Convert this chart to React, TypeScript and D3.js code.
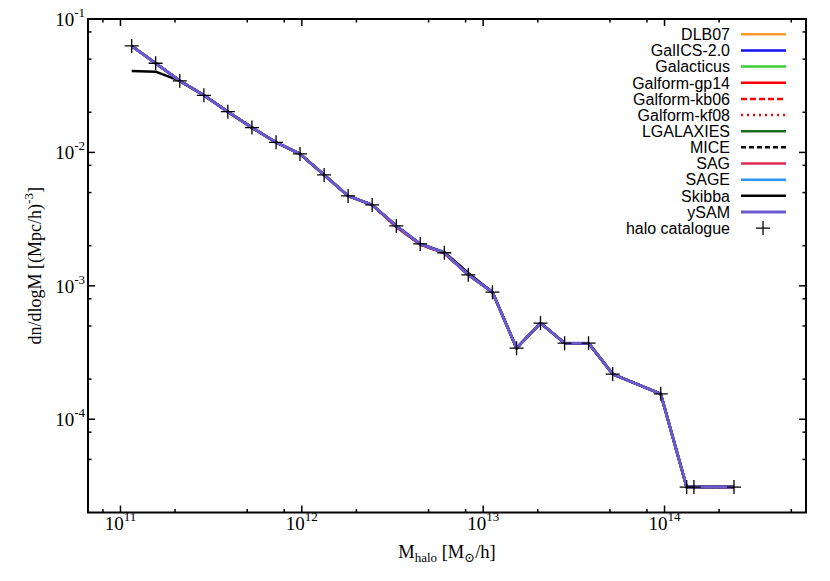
import React from 'react';
import * as d3 from 'd3';

// log10 of halo mass [Msun/h] for each bin
const logMass = [11.062, 11.194, 11.327, 11.46, 11.592, 11.725, 11.858, 11.99, 12.123, 12.255, 12.388, 12.521, 12.653, 12.786, 12.918, 13.051, 13.184, 13.316, 13.449, 13.581, 13.714, 13.979, 14.122, 14.162, 14.383];

// halo catalogue mass function dn/dlogM [(Mpc/h)^-3]
const haloCatalogue = [0.0628, 0.0466, 0.0344, 0.0268, 0.0202, 0.01535, 0.0119, 0.00975, 0.00678, 0.00472, 0.00404, 0.00281, 0.00206, 0.00177, 0.00121, 0.000897, 0.000341, 0.000526, 0.000372, 0.000372, 0.000218, 0.000155, 3.1e-5, 3.1e-5, 3.1e-5];

// models which follow the halo catalogue
const commonModel = [0.0628, 0.0466, 0.0344, 0.0268, 0.0202, 0.01535, 0.0119, 0.00975, 0.00678, 0.00472, 0.00404, 0.00281, 0.00206, 0.00177, 0.00121, 0.000897, 0.000341, 0.000526, 0.000372, 0.000372, 0.000218, 0.000155, 3.1e-5, 3.1e-5, 3.1e-5];
const galformGp14 = [0.0628, 0.0466, 0.0344, 0.0268, 0.0202, 0.01535, 0.0119, 0.00975, 0.00678, 0.00472, 0.00404, 0.00276, 0.00204, 0.00175, 0.00121, 0.000897, 0.000341, 0.000526, 0.000372, 0.000372, 0.000218, 0.000155, 3.1e-5, 3.1e-5, 3.1e-5];
const skibba = [0.0407, 0.0403, 0.0344, 0.0268, 0.0202, 0.01535, 0.0119, 0.00975, 0.00678, 0.00472, 0.00404, 0.00281, 0.00206, 0.00179, 0.00125, 0.000897, 0.000341, 0.000526, 0.000372, 0.000372, 0.000218, 0.000155, 3.1e-5, 3.1e-5, 3.1e-5];

const seriesNames = ['DLB07', 'GalICS-2.0', 'Galacticus', 'Galform-gp14', 'Galform-kb06', 'Galform-kf08', 'LGALAXIES', 'MICE', 'SAG', 'SAGE', 'Skibba', 'ySAM'];
const seriesValues = [commonModel, commonModel, commonModel, galformGp14, galformGp14, galformGp14, commonModel, commonModel, commonModel, commonModel, skibba, commonModel];
const seriesColors = ['#ff9a2e', '#1010f0', '#3ccc3c', '#ff0000', '#ff0000', '#ff0000', '#1b6f1b', '#000000', '#dc2a50', '#2a95ff', '#000000', '#6a5acd'];
const seriesDash = ['', '', '', '', '6,3', '2,4', '', '5,3', '', '', '', ''];

const xTickExps = [11, 12, 13, 14];
const yTickExps = [-1, -2, -3, -4];
const minorMultipliers = [2, 5, 8];

const W = 830, H = 581;
const L = 88, R = 806, T = 19, B = 512.5;

export default function App() {
  const x = d3.scaleLog().domain([10 ** 10.821, 10 ** 14.78]).range([L, R]);
  const y = d3.scaleLog().domain([2e-5, 0.1]).range([B, T]);

  const line = d3.line<[number, number]>().x(d => x(10 ** d[0])).y(d => y(d[1]));

  const xMinor: number[] = [];
  for (let e = 10; e <= 14; e++) for (const m of minorMultipliers) {
    const v = m * 10 ** e;
    if (v > x.domain()[0] && v < x.domain()[1]) xMinor.push(v);
  }
  const yMinor: number[] = [];
  for (let e = -5; e <= -2; e++) for (const m of minorMultipliers) {
    const v = m * 10 ** e;
    if (v > y.domain()[0] && v < y.domain()[1]) yMinor.push(v);
  }

  const serif = '"Liberation Serif", "DejaVu Serif", serif';
  const sans = '"Liberation Sans", Arial, sans-serif';
  const legendX = 730, legendY0 = 34.3, legendDy = 16.15;

  return (
    <svg width={W} height={H} style={{ position: 'absolute', left: 0, top: 0, background: '#fff' }}>
      {/* series */}
      {seriesNames.map((n, i) => (
        <path key={n} d={line(logMass.map((m, k) => [m, seriesValues[i][k]] as [number, number])) || ''}
          fill="none" stroke={seriesColors[i]} strokeWidth={n === 'ySAM' ? 3 : 2.5}
          strokeDasharray={seriesDash[i] || undefined} strokeLinejoin="round" />
      ))}
      {/* halo points */}
      {logMass.map((m, k) => (
        <path key={'p' + k} transform={`translate(${x(10 ** m)},${y(haloCatalogue[k])})`}
          d="M-7,0H7M0,-7V7" stroke="#000" strokeWidth={1.3} />
      ))}
      {/* frame */}
      <rect x={L} y={T} width={R - L} height={B - T} fill="none" stroke="#000" strokeWidth={2} />
      {/* x ticks */}
      {xTickExps.map(e => {
        const px = x(10 ** e);
        return (
          <g key={'xt' + e}>
            <line x1={px} x2={px} y1={B} y2={B - 7} stroke="#000" strokeWidth={1.5} />
            <line x1={px} x2={px} y1={T} y2={T + 7} stroke="#000" strokeWidth={1.5} />
            <text x={px} y={530} textAnchor="middle" fontFamily={serif} fontSize={19}>10<tspan dy={-9} fontSize={13}>{e}</tspan></text>
          </g>
        );
      })}
      {xMinor.map((v, i) => (
        <g key={'xm' + i}>
          <line x1={x(v)} x2={x(v)} y1={B} y2={B - 3.5} stroke="#000" strokeWidth={1.5} />
          <line x1={x(v)} x2={x(v)} y1={T} y2={T + 3.5} stroke="#000" strokeWidth={1.5} />
        </g>
      ))}
      {/* y ticks */}
      {yTickExps.map(e => {
        const py = y(10 ** e);
        return (
          <g key={'yt' + e}>
            <line x1={L} x2={L + 7} y1={py} y2={py} stroke="#000" strokeWidth={1.5} />
            <line x1={R} x2={R - 7} y1={py} y2={py} stroke="#000" strokeWidth={1.5} />
            <text x={85} y={py + 7} textAnchor="end" fontFamily={serif} fontSize={19}>10<tspan dy={-9} fontSize={13}>{e}</tspan></text>
          </g>
        );
      })}
      {yMinor.map((v, i) => (
        <g key={'ym' + i}>
          <line x1={L} x2={L + 3.5} y1={y(v)} y2={y(v)} stroke="#000" strokeWidth={1.5} />
          <line x1={R} x2={R - 3.5} y1={y(v)} y2={y(v)} stroke="#000" strokeWidth={1.5} />
        </g>
      ))}
      {/* axis titles */}
      <text x={(L + R) / 2} y={558} textAnchor="middle" fontFamily={serif} fontSize={18.5}>
        M<tspan dy={4} fontSize={13}>halo</tspan><tspan dy={-4}> [M</tspan><tspan dy={4} fontSize={13}>⊙</tspan><tspan dy={-4}>/h]</tspan>
      </text>
      <text transform={`translate(41,${(T + B) / 2}) rotate(-90)`} textAnchor="middle" fontFamily={serif} fontSize={18}>
        dn/dlogM [(Mpc/h)<tspan dy={-8} fontSize={13}>-3</tspan><tspan dy={8}>]</tspan>
      </text>
      {/* legend */}
      {seriesNames.map((n, i) => {
        const ly = legendY0 + legendDy * i;
        return (
          <g key={'lg' + n}>
            <text x={legendX} y={ly + 5.8} textAnchor="end" fontFamily={sans} fontSize={16}>{n}</text>
            <line x1={741} x2={786} y1={ly} y2={ly} stroke={seriesColors[i]} strokeWidth={n === 'ySAM' ? 3 : 2.5}
              strokeDasharray={seriesDash[i] || undefined} />
          </g>
        );
      })}
      <text x={legendX} y={legendY0 + legendDy * 12 + 5.8} textAnchor="end" fontFamily={sans} fontSize={16}>halo catalogue</text>
      <path transform={`translate(763,${legendY0 + legendDy * 12})`} d="M-7,0H7M0,-7V7" stroke="#000" strokeWidth={1.3} />
    </svg>
  );
}
